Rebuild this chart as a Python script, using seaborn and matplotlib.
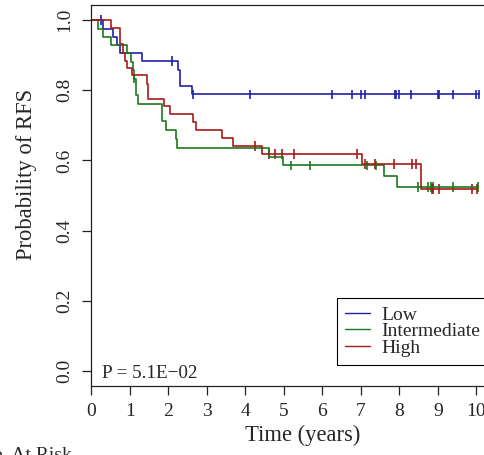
import numpy as np
import pandas as pd
import seaborn as sns
import matplotlib
matplotlib.use("Agg")
import matplotlib.pyplot as plt

# step curves (event time, survival after step)
groups = ["Low", "Intermediate", "High"]
colors = ["#2020A8", "#1B7A1B", "#A81A1A"]

low_times = [0.31, 0.57, 0.67, 0.75, 1.32, 2.26, 2.30, 2.62]
low_surv = [0.976, 0.952, 0.930, 0.907, 0.884, 0.859, 0.812, 0.788]
low_cens = [0.26, 2.09, 2.65, 4.12, 6.26, 6.76, 7.00, 7.10, 7.88, 7.91, 7.98,
            8.31, 8.99, 9.02, 9.38, 10.00, 10.06]

int_times = [0.18, 0.31, 0.50, 0.92, 1.03, 1.07, 1.10, 1.15, 1.17, 1.22,
             1.83, 1.94, 2.20, 2.23, 4.62, 4.97, 7.61, 7.93]
int_surv = [0.976, 0.952, 0.929, 0.905, 0.881, 0.857, 0.833, 0.810, 0.786, 0.762,
            0.711, 0.686, 0.661, 0.636, 0.611, 0.586, 0.555, 0.524]
int_cens = [1.12, 5.19, 5.68, 7.15, 7.39, 8.48, 8.73, 8.82, 8.87, 9.38, 10.03]

high_times = [0.50, 0.75, 0.83, 0.88, 0.92, 1.05, 1.44, 1.48, 1.89, 2.05,
              2.65, 2.72, 3.39, 3.69, 4.43, 7.02, 8.55]
high_surv = [0.978, 0.933, 0.907, 0.883, 0.862, 0.843, 0.819, 0.776, 0.754, 0.733,
             0.709, 0.686, 0.664, 0.641, 0.619, 0.590, 0.519]
high_cens = [4.26, 4.62, 4.77, 4.95, 5.25, 6.89, 7.11, 7.37, 7.87, 8.32, 8.43,
             8.84, 8.88, 9.04, 9.88, 10.01]

x_ticks = list(range(0, 11))
y_ticks = [0.0, 0.2, 0.4, 0.6, 0.8, 1.0]
p_text = "P = 5.1E\u221202"

curves = {
    "Low": (low_times, low_surv, low_cens),
    "Intermediate": (int_times, int_surv, int_cens),
    "High": (high_times, high_surv, high_cens),
}

# Build step and censor tables
step_rows = []
cens_rows = []
for g in groups:
    t, s, c = curves[g]
    tt = np.array([0.0] + t + [max(c)])
    ss = np.array([1.0] + s + [s[-1]])
    for a, b in zip(tt, ss):
        step_rows.append({"time": a, "surv": b, "group": g})
    for ct in c:
        idx = np.searchsorted(tt, ct, side="right") - 1
        cens_rows.append({"time": ct, "surv": ss[idx], "group": g})
steps = pd.DataFrame(step_rows)
cens = pd.DataFrame(cens_rows)

sns.set_style("ticks")
plt.rcParams["font.family"] = ["Liberation Serif", "DejaVu Serif"]

fig = plt.figure(figsize=(4.85, 4.55), dpi=100)
ax = fig.add_axes([91.3 / 485, 1 - 386 / 455, (488 - 91.3) / 485, 381 / 455])

pal = dict(zip(groups, colors))
sns.lineplot(ax=ax, data=steps, x="time", y="surv", hue="group", hue_order=groups,
             palette=pal, drawstyle="steps-post", estimator=None, sort=False,
             linewidth=1.2)
sns.scatterplot(ax=ax, data=cens, x="time", y="surv", hue="group", hue_order=groups,
                palette=pal, marker="|", s=48, linewidth=1.2, legend=False)

ax.set_xlim(0, 10.3)
ax.set_ylim(-0.043, 1.043)
ax.set_xticks(x_ticks)
ax.set_yticks(y_ticks)
ax.set_xticklabels([str(v) for v in x_ticks], fontsize=14)
ax.set_yticklabels(["%.1f" % v for v in y_ticks], fontsize=14, rotation=90, va="center")
ax.tick_params(axis="both", direction="out", length=6.8, width=0.9, color="#222222")
ax.tick_params(axis="x", pad=5.5)
ax.tick_params(axis="y", pad=6.5)
for sp in ax.spines.values():
    sp.set_visible(True)
    sp.set_linewidth(0.9)
    sp.set_color("#222222")

ax.set_xlabel("Time (years)", fontsize=16.3)
ax.xaxis.set_label_coords(0.5325, -0.103)
ax.set_ylabel("Probability of RFS", fontsize=16.3)
ax.yaxis.set_label_coords(-0.137, 0.556)

ax.text(0.27, -0.02, p_text, fontsize=13.8, ha="left", va="baseline")

handles, labels = ax.get_legend_handles_labels()
leg = ax.legend(handles, labels, loc="upper left", bbox_to_anchor=(0.6195, 0.231),
                borderaxespad=0, fontsize=14, frameon=True, fancybox=False,
                framealpha=1, edgecolor="black", handlelength=1.25,
                handletextpad=0.6, borderpad=0.42, labelspacing=-0.06)
leg.get_frame().set_linewidth(0.8)
for ln in leg.get_lines():
    ln.set_linewidth(1.0)

fig.text(72 / 485, 1 - 447 / 455, "No. At Risk", fontsize=14, ha="right", va="top")

plt.savefig("out.png", dpi=100)
plt.close(fig)
